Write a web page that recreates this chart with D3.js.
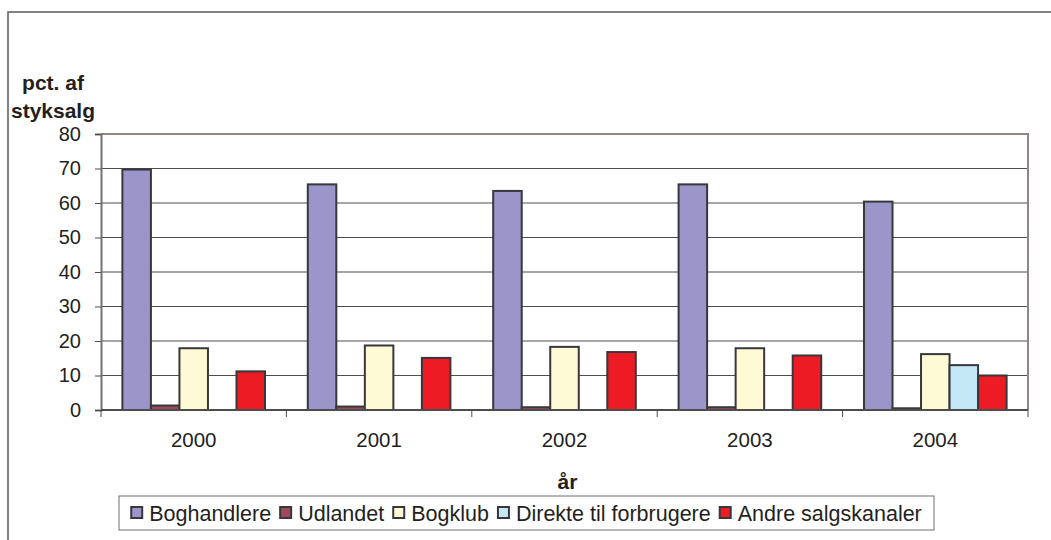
<!DOCTYPE html>
<html>
<head>
<meta charset="utf-8">
<script src="https://cdn.jsdelivr.net/npm/d3@7"></script>
<style>
  body { margin: 0; background: #fff; }
  text { font-family: "Liberation Sans", Arial, sans-serif; fill: #231f20; }
</style>
</head>
<body>
<script>
const svgWidth = 1051
const svgHeight = 540

// data
const years = ["2000", "2001", "2002", "2003", "2004"]
const series = ["Boghandlere", "Udlandet", "Bogklub", "Direkte til forbrugere", "Andre salgskanaler"]
const boghandlere = [69.7, 65.4, 63.5, 65.4, 60.4]
const udlandet = [1.3, 1.0, 0.8, 0.8, 0.5]
const bogklub = [17.9, 18.7, 18.3, 17.9, 16.2]
const direkte = [null, null, null, null, 13.0]
const andre = [11.2, 15.1, 16.8, 15.8, 10.0]
const yTicks = [0, 10, 20, 30, 40, 50, 60, 70, 80]

const values = [boghandlere, udlandet, bogklub, direkte, andre]
const colors = ["#9b95c9", "#9e4a5c", "#fffad6", "#c5e8f7", "#ed1c24"]

const plot = { left: 101, right: 1028, top: 134, bottom: 410 }

const svg = d3.select("body").append("svg")
  .attr("width", svgWidth)
  .attr("height", svgHeight)

// outer chart frame (runs off the right/bottom edge)
svg.append("rect")
  .attr("x", 8).attr("y", 12)
  .attr("width", 1100).attr("height", 600)
  .attr("fill", "none")
  .attr("stroke", "#5a5a5a")
  .attr("stroke-width", 1.5)

const x0 = d3.scaleBand()
  .domain(years)
  .range([plot.left, plot.right])

const x1 = d3.scaleBand()
  .domain(series)
  .range([0, x0.bandwidth()])
  .paddingOuter(0.75)

const y = d3.scaleLinear()
  .domain([0, 80])
  .range([plot.bottom, plot.top])

// gridlines
svg.append("g")
  .selectAll("line")
  .data(yTicks.filter(d => d > 0 && d < 80))
  .enter()
  .append("line")
  .attr("x1", plot.left).attr("x2", plot.right)
  .attr("y1", d => y(d)).attr("y2", d => y(d))
  .attr("stroke", "#4d4d4d")
  .attr("stroke-width", 1)

// plot frame top/right
svg.append("path")
  .attr("d", `M${plot.left},${plot.top}H${plot.right}V${plot.bottom}`)
  .attr("fill", "none")
  .attr("stroke", "#8f8583")
  .attr("stroke-width", 2)

// bars
const barData = []
years.forEach((yr, i) => {
  series.forEach((s, j) => {
    if (values[j][i] != null) barData.push({ year: yr, s: s, v: values[j][i], c: colors[j] })
  })
})

svg.append("g")
  .selectAll("rect")
  .data(barData)
  .enter()
  .append("rect")
  .attr("x", d => x0(d.year) + x1(d.s))
  .attr("y", d => y(d.v))
  .attr("width", x1.bandwidth())
  .attr("height", d => y(0) - y(d.v))
  .attr("fill", d => d.c)
  .attr("stroke", "#38373c")
  .attr("stroke-width", 2)

// y axis
const yAxis = d3.axisLeft(y).tickValues(yTicks).tickSize(6).tickPadding(14)
const yG = svg.append("g")
  .attr("transform", `translate(${plot.left},0)`)
  .call(yAxis)
yG.select(".domain").attr("stroke", "#7a7070").attr("stroke-width", 2)
yG.selectAll(".tick line").attr("stroke", "#4d4d4d")
yG.selectAll(".tick text")
  .attr("font-size", "20px")
  .attr("font-family", "Liberation Sans, Arial, sans-serif")
  .attr("fill", "#231f20")

// x axis
const xAxis = d3.axisBottom(x0).tickSize(0).tickPadding(22)
const xG = svg.append("g")
  .attr("transform", `translate(0,${plot.bottom})`)
  .call(xAxis)
xG.select(".domain").remove()
xG.selectAll(".tick text")
  .attr("font-size", "20.5px")
  .attr("font-family", "Liberation Sans, Arial, sans-serif")
  .attr("fill", "#231f20")

svg.append("line")
  .attr("x1", plot.left).attr("x2", plot.right)
  .attr("y1", plot.bottom).attr("y2", plot.bottom)
  .attr("stroke", "#4d4d4d")
  .attr("stroke-width", 2)

// category separator ticks
svg.append("g")
  .selectAll("line")
  .data(years.concat(["end"]))
  .enter()
  .append("line")
  .attr("x1", (d, i) => plot.left + i * x0.step())
  .attr("x2", (d, i) => plot.left + i * x0.step())
  .attr("y1", plot.bottom).attr("y2", plot.bottom + 7)
  .attr("stroke", "#4d4d4d")

// axis titles
const yTitle = svg.append("text")
  .attr("text-anchor", "middle")
  .attr("font-size", "21px")
  .attr("font-weight", "bold")
yTitle.append("tspan").attr("x", 53).attr("y", 90).text("pct. af")
yTitle.append("tspan").attr("x", 53).attr("y", 118).text("styksalg")

svg.append("text")
  .attr("x", (plot.left + plot.right) / 2 + 3)
  .attr("y", 489)
  .attr("text-anchor", "middle")
  .attr("font-size", "21px")
  .attr("font-weight", "bold")
  .text("år")

// legend
const legend = { left: 119, right: 934, top: 496, bottom: 530 }
svg.append("rect")
  .attr("x", legend.left).attr("y", legend.top)
  .attr("width", legend.right - legend.left)
  .attr("height", legend.bottom - legend.top)
  .attr("fill", "#fff")
  .attr("stroke", "#6e6e6e")
  .attr("stroke-width", 1)

const legendG = svg.append("g")
let lx = 0
series.forEach((s, j) => {
  const item = legendG.append("g").attr("transform", `translate(${lx},0)`)
  item.append("rect")
    .attr("x", 0).attr("y", 507)
    .attr("width", 11).attr("height", 11)
    .attr("fill", colors[j])
    .attr("stroke", "#38373c")
    .attr("stroke-width", 2)
  const t = item.append("text")
    .attr("x", 18).attr("y", 521)
    .attr("font-size", "21.5px")
    .text(s)
  lx += 18 + t.node().getComputedTextLength() + 9
})
const legendW = lx - 9
legendG.attr("transform", `translate(${(legend.left + legend.right - legendW) / 2},0)`)
</script>
</body>
</html>
